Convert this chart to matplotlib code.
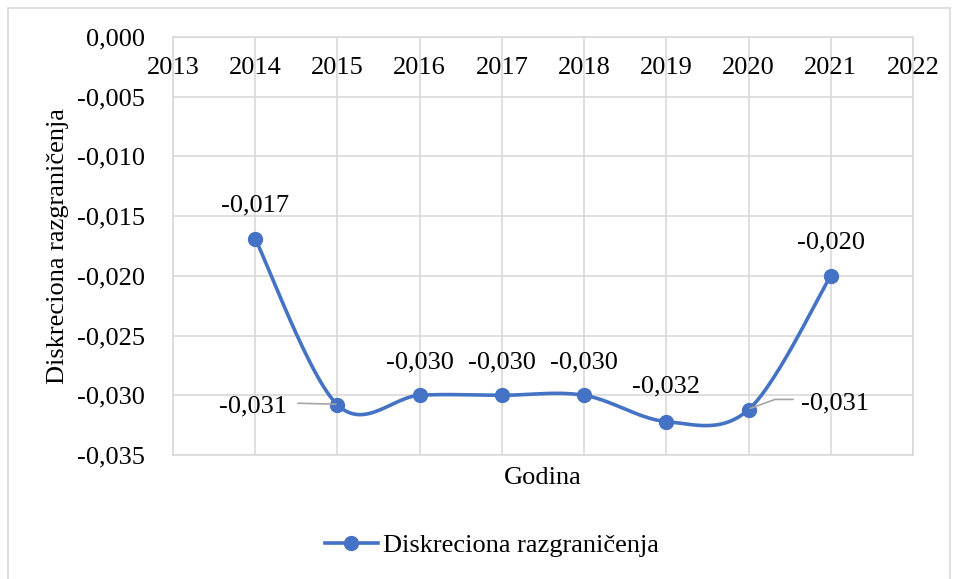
import numpy as np
import matplotlib.pyplot as plt
from matplotlib.patches import Rectangle

years = [2014, 2015, 2016, 2017, 2018, 2019, 2020, 2021]
values = [-0.0169, -0.0308, -0.0300, -0.0300, -0.0300, -0.0322, -0.0312, -0.0200]
labels = ['-0,017', '-0,031', '-0,030', '-0,030', '-0,030', '-0,032', '-0,031', '-0,020']
yticks = [0.0, -0.005, -0.010, -0.015, -0.020, -0.025, -0.030, -0.035]
xticks = list(range(2013, 2023))

blue = '#4472C4'
grid = '#D9D9D9'
fs = 19
plt.rcParams['font.family'] = ['Liberation Serif', 'DejaVu Serif']


def catmull_rom(x, y, n=30):
    # smoothed line like Excel's "smoothed line" option
    x = np.asarray(x, float)
    y = np.asarray(y, float)
    px = np.concatenate([[x[0]], x, [x[-1]]])
    py = np.concatenate([[y[0]], y, [y[-1]]])
    xs, ys = [], []
    t = np.linspace(0, 1, n)
    for i in range(1, len(px) - 2):
        p0, p1, p2, p3 = [np.array([px[j], py[j]]) for j in range(i - 1, i + 3)]
        c1 = p1 + (p2 - p0) / 6
        c2 = p2 - (p3 - p1) / 6
        pts = (np.outer((1 - t) ** 3, p1) + np.outer(3 * (1 - t) ** 2 * t, c1)
               + np.outer(3 * (1 - t) * t ** 2, c2) + np.outer(t ** 3, p2))
        xs.extend(pts[:, 0])
        ys.extend(pts[:, 1])
    return np.array(xs), np.array(ys)


fig = plt.figure(figsize=(9.58, 5.79), dpi=100)
fig.patches.append(Rectangle((8 / 958, -0.01), 942 / 958, 1 - 8 / 579 + 0.01,
                             transform=fig.transFigure, fill=False,
                             edgecolor=grid, linewidth=1.2))
ax = fig.add_axes([173 / 958, (579 - 455) / 579, 740 / 958, 418 / 579])

ax.set_xlim(2013, 2022)
ax.set_ylim(-0.035, 0.0)
ax.set_xticks(xticks)
ax.set_yticks(yticks)
ax.set_yticklabels([('%.3f' % v).replace('.', ',') if v != 0 else '0,000' for v in yticks],
                   fontsize=fs)
ax.tick_params(axis='y', length=0, pad=20)
ax.tick_params(axis='x', length=0, labelbottom=False)
ax.grid(True, color=grid, linewidth=1.2)
for s in ax.spines.values():
    s.set_color(grid)
    s.set_linewidth(1.2)
ax.set_axisbelow(True)

# year labels sit just below the horizontal axis at y=0
for yr in xticks:
    ax.text(yr, -0.0026, str(yr), ha='center', va='center', fontsize=fs)

sx, sy = catmull_rom(years, values)
ax.plot(sx, sy, color=blue, linewidth=2.6, solid_capstyle='round')
ax.plot(years, values, 'o', color=blue, markersize=10)

# data labels (offsets in pixels)
offsets = {0: (0, 33), 1: (-84, -2), 5: (0, 35), 6: (86, 6), 7: (0, 33)}
for i, (x, y, lab) in enumerate(zip(years, values, labels)):
    dx, dy = offsets.get(i, (0, 33))
    ax.annotate(lab, (x, y), xytext=(dx * 0.72, dy * 0.72), textcoords='offset points',
                ha='center', va='center', fontsize=fs)

# leader lines
ax.annotate('', (years[1] - 0.02, values[1] + 0.00005), xytext=(-38 * 0.72, 1 * 0.72),
            textcoords='offset points',
            arrowprops=dict(arrowstyle='-', color='#A6A6A6', lw=1.2, shrinkA=0, shrinkB=0))
ax.annotate('', (years[6] + 0.02, values[6] + 0.0001), xytext=(43 * 0.72, 9 * 0.72),
            textcoords='offset points',
            arrowprops=dict(arrowstyle='-', color='#A6A6A6', lw=1.2, shrinkA=0, shrinkB=0,
                            connectionstyle='angle,angleA=0,angleB=20,rad=0'))

ax.set_ylabel('Diskreciona razgraničenja', fontsize=fs, labelpad=6)
fig.text(543 / 958, 1 - 478 / 579, 'Godina', ha='center', va='center', fontsize=fs)

handle, = ax.plot([], [], '-o', color=blue, linewidth=2.6, markersize=10)
fig.legend([handle], ['Diskreciona razgraničenja'], loc='center',
           bbox_to_anchor=(492 / 958, 1 - 545 / 579), frameon=False, fontsize=fs,
           handlelength=2.0, handletextpad=0.2)

fig.savefig('out.png', dpi=100)
